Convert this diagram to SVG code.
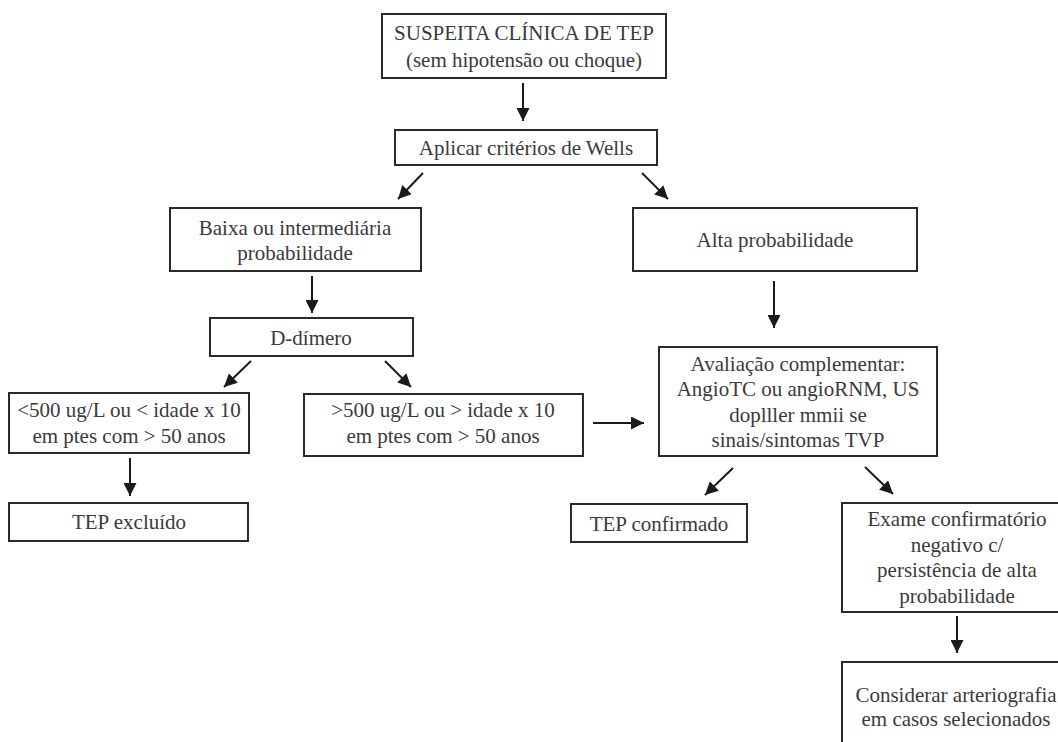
<svg xmlns="http://www.w3.org/2000/svg" width="1058" height="742" viewBox="0 0 1058 742">
<defs>
<style>
.box{fill:#fff;stroke:#2a2a2a;stroke-width:2}
.t{font-family:'Liberation Serif','Times New Roman',Times,serif;font-size:21px;fill:#3a3a3a;text-anchor:middle}
.c{stroke:#1a1a1a;stroke-width:2;fill:none;marker-end:url(#ah)}
</style>
<marker id="ah" markerUnits="userSpaceOnUse" markerWidth="13" markerHeight="13" refX="13" refY="6.5" orient="auto" viewBox="0 0 13 13">
<path d="M0,0 L13,6.5 L0,13 z" fill="#1a1a1a"/>
</marker>
</defs>
<rect width="1058" height="742" fill="#fff"/>
<g id="connectors">
<line class="c" x1="523" y1="83" x2="523" y2="121"/>
<line class="c" x1="423" y1="173" x2="398" y2="199"/>
<line class="c" x1="642" y1="173" x2="668" y2="199"/>
<line class="c" x1="312" y1="276" x2="312" y2="313"/>
<line class="c" x1="774" y1="281" x2="774" y2="328"/>
<line class="c" x1="251" y1="361" x2="224" y2="387"/>
<line class="c" x1="385" y1="361" x2="411" y2="387"/>
<line class="c" x1="593" y1="423" x2="644" y2="423"/>
<line class="c" x1="130" y1="458" x2="130" y2="496"/>
<line class="c" x1="733" y1="468" x2="705" y2="495"/>
<line class="c" x1="865" y1="467" x2="893" y2="494"/>
<line class="c" x1="957" y1="616" x2="957" y2="653"/>
</g>
<g id="n1"><rect class="box" x="382" y="14" width="284" height="64"/>
<text class="t" x="524" y="40">SUSPEITA CLÍNICA DE TEP</text>
<text class="t" x="524" y="67">(sem hipotensão ou choque)</text></g>
<g id="n2"><rect class="box" x="395" y="130" width="262" height="35"/>
<text class="t" x="526" y="155">Aplicar critérios de Wells</text></g>
<g id="n3"><rect class="box" x="170" y="208" width="251" height="63"/>
<text class="t" x="295" y="235">Baixa ou intermediária</text>
<text class="t" x="295" y="260">probabilidade</text></g>
<g id="n4"><rect class="box" x="633" y="208" width="284" height="63"/>
<text class="t" x="775" y="247">Alta probabilidade</text></g>
<g id="n5"><rect class="box" x="210" y="318" width="203" height="38"/>
<text class="t" x="311" y="345">D-dímero</text></g>
<g id="n6"><rect class="box" x="659" y="347" width="278" height="109"/>
<text class="t" x="798" y="371">Avaliação complementar:</text>
<text class="t" x="798" y="396">AngioTC ou angioRNM, US</text>
<text class="t" x="798" y="422">doplller mmii se</text>
<text class="t" x="798" y="447">sinais/sintomas TVP</text></g>
<g id="n7"><rect class="box" x="9" y="393" width="240" height="60"/>
<text class="t" x="129" y="417">&lt;500 ug/L ou &lt; idade x 10</text>
<text class="t" x="129" y="443">em ptes com &gt; 50 anos</text></g>
<g id="n8"><rect class="box" x="304" y="394" width="279" height="62"/>
<text class="t" x="443" y="417">&gt;500 ug/L ou &gt; idade x 10</text>
<text class="t" x="443" y="443">em ptes com &gt; 50 anos</text></g>
<g id="n9"><rect class="box" x="9" y="503" width="239" height="38"/>
<text class="t" x="129" y="529">TEP excluído</text></g>
<g id="n10"><rect class="box" x="571" y="504" width="176" height="38"/>
<text class="t" x="659" y="531">TEP confirmado</text></g>
<g id="n11"><rect class="box" x="842" y="503" width="232" height="109"/>
<text class="t" x="957" y="526">Exame confirmatório</text>
<text class="t" x="957" y="552">negativo c/</text>
<text class="t" x="957" y="577">persistência de alta</text>
<text class="t" x="957" y="603">probabilidade</text></g>
<g id="n12"><rect class="box" x="842" y="662" width="232" height="100"/>
<text class="t" x="956" y="702">Considerar arteriografia</text>
<text class="t" x="956" y="726">em casos selecionados</text></g>
</svg>
